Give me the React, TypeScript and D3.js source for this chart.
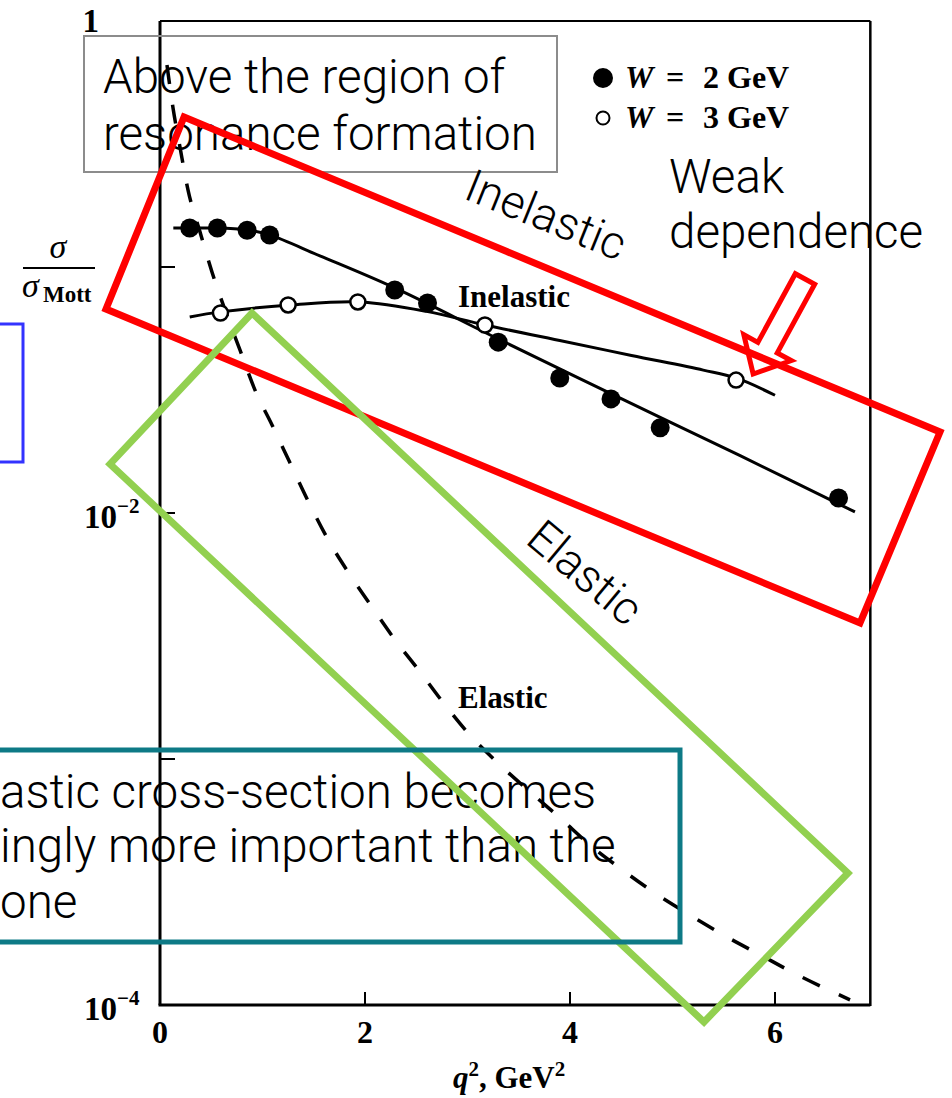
import React from 'react';
import * as d3 from 'd3';

// ---------- data ----------
// W = 2 GeV measurements (filled circles)
const w2Q2 = [0.29, 0.56, 0.85, 1.07, 2.29, 2.61, 3.3, 3.9, 4.4, 4.88, 6.62];
const w2Ratio = [0.144, 0.144, 0.141, 0.135, 0.0806, 0.0714, 0.0495, 0.0354, 0.0291, 0.0222, 0.0115];
// W = 3 GeV measurements (open circles)
const w3Q2 = [0.59, 1.25, 1.93, 3.17, 5.62];
const w3Ratio = [0.065, 0.0701, 0.0721, 0.0581, 0.0347];
// smooth curves through the points
const w2CurveQ2 = [0.13, 0.3, 0.6, 0.88, 1.07, 1.56, 2.29, 3.32, 4.49, 5.66, 6.78];
const w2CurveRatio = [0.144, 0.144, 0.144, 0.141, 0.135, 0.111, 0.0822, 0.0505, 0.0293, 0.0171, 0.0101];
const w3CurveQ2 = [0.29, 0.59, 1.27, 1.95, 2.6, 3.17, 3.9, 4.6, 5.3, 5.62, 6.0];
const w3CurveRatio = [0.0626, 0.0657, 0.07, 0.0721, 0.066, 0.0581, 0.0503, 0.0437, 0.0381, 0.0354, 0.0301];
// elastic (dashed)
const elQ2 = [0.068, 0.127, 0.195, 0.273, 0.39, 0.507, 0.634, 0.78, 0.927, 1.093, 1.268, 1.463, 1.659, 1.854, 2.068, 2.293, 2.537, 2.78, 3.024, 3.317, 3.61, 3.902, 4.195, 4.488, 4.829, 5.171, 5.512, 5.854, 6.244, 6.732];
const elRatio = [0.662, 0.443, 0.307, 0.206, 0.139, 0.0955, 0.0669, 0.046, 0.0316, 0.0228, 0.016, 0.0108, 0.00755, 0.0056, 0.00415, 0.00305, 0.00226, 0.00166, 0.00125, 0.000946, 0.000735, 0.000576, 0.000447, 0.00036, 0.000285, 0.000232, 0.000191, 0.00016, 0.000131, 0.000105];
// axes
const xTicks = [2, 4, 6];
const xTickLabels = ['0', '2', '4', '6'];
const xLabelVals = [0, 2, 4, 6];
const yTicks = [1e-3, 1e-2, 1e-1];
const xMax = 6.93;
const legendLabels = ['2 GeV', '3 GeV'];

const SERIF = '"Liberation Serif", "Times New Roman", serif';
const SANS = 'Roboto, "Helvetica Neue", sans-serif';

export default function App() {
  const x = d3.scaleLinear().domain([0, 6]).range([160, 775]);
  const y = d3.scaleLog().domain([1e-4, 1]).range([1005, 21]);
  const line = d3
    .line<[number, number]>()
    .x((d) => x(d[0]))
    .y((d) => y(d[1]))
    .curve(d3.curveMonotoneX);
  const smooth = d3
    .line<[number, number]>()
    .x((d) => x(d[0]))
    .y((d) => y(d[1]))
    .curve(d3.curveCatmullRom.alpha(0.5));
  const zip = (a: number[], b: number[]) => a.map((v, i) => [v, b[i]] as [number, number]);

  const x0 = x(0), x1 = x(xMax), yB = y(1e-4), yT = y(1);

  // arrow geometry
  const dir = [-0.48, 0.88], per = [0.88, 0.48];
  const T = [805, 279];
  const B = [T[0] + dir[0] * 78, T[1] + dir[1] * 78];
  const tip = [B[0] + dir[0] * 30, B[1] + dir[1] * 30];
  const pt = (c: number[], s: number) => [c[0] + per[0] * s, c[1] + per[1] * s];
  const arrow = [pt(T, -11), pt(B, -11), pt(B, -27), tip, pt(B, 27), pt(B, 11), pt(T, 11)]
    .map((p) => p.join(','))
    .join(' ');

  return (
    <svg width={952} height={1098} style={{ position: 'absolute', left: 0, top: 0, background: '#fff' }}>
      <rect x={0} y={0} width={952} height={1098} fill="#fff" />
      {/* frame */}
      <g fill="none" stroke="#000">
        <line x1={x0} y1={yT} x2={x0} y2={yB} strokeWidth={3} />
        <line x1={x0 - 1.5} y1={yB} x2={x1} y2={yB} strokeWidth={3} />
        <line x1={x0} y1={yT} x2={x1} y2={yT} strokeWidth={2} />
        <line x1={x1} y1={yT} x2={x1} y2={yB + 1} strokeWidth={2.5} />
        {xTicks.map((t) => (
          <line key={t} x1={x(t)} x2={x(t)} y1={yB} y2={yB - 13} strokeWidth={2} />
        ))}
        {yTicks.map((t) => (
          <line key={t} x1={x0} x2={x0 + 15} y1={y(t)} y2={y(t)} strokeWidth={2} />
        ))}
      </g>
      {/* tick labels */}
      <g fontFamily={SERIF} fontWeight="bold" fill="#000">
        {xLabelVals.map((v, i) => (
          <text key={v} x={x(v)} y={1043} fontSize={32} textAnchor="middle">
            {xTickLabels[i]}
          </text>
        ))}
        <text x={99} y={y(1) + 11} fontSize={33} textAnchor="end">1</text>
        <text x={84} y={y(1e-2) + 15} fontSize={33}>
          10<tspan dy={-15} fontSize={21}>−2</tspan>
        </text>
        <text x={84} y={y(1e-4) + 15} fontSize={33}>
          10<tspan dy={-15} fontSize={21}>−4</tspan>
        </text>
        {/* x title */}
        <text x={453} y={1088} fontSize={31} fontWeight="bold">
          <tspan fontStyle="italic">q</tspan>
          <tspan dy={-12} fontSize={21}>2</tspan>
          <tspan dy={12}>, GeV</tspan>
          <tspan dy={-12} fontSize={21}>2</tspan>
        </text>
        {/* y title */}
        <text x={58} y={258} fontSize={34} fontStyle="italic" fontWeight="normal" textAnchor="middle">σ</text>
        <line x1={23} x2={95} y1={268} y2={268} stroke="#000" strokeWidth={2} />
        <text x={22} y={297} fontSize={34} fontStyle="italic" fontWeight="normal">σ</text>
        <text x={43} y={302} fontSize={23}>Mott</text>
        {/* curve labels */}
        <text x={458} y={307} fontSize={31}>Inelastic</text>
        <text x={458} y={708} fontSize={31}>Elastic</text>
        {/* legend */}
        {legendLabels.map((lab, i) => (
          <g key={lab}>
            <circle
              cx={603}
              cy={78 + i * 40}
              r={i === 0 ? 9 : 6.5}
              fill={i === 0 ? '#000' : '#fff'}
              stroke="#000"
              strokeWidth={2}
            />
            <text x={625} y={88 + i * 40} fontSize={32}>
              <tspan fontStyle="italic">W</tspan>
              <tspan x={666}>=</tspan>
              <tspan x={703}>{lab}</tspan>
            </text>
          </g>
        ))}
      </g>
      {/* curves */}
      <g fill="none" stroke="#000">
        <path d={line(zip(elQ2, elRatio)) || ''} strokeWidth={3.5} strokeDasharray="19 21" />
        <path d={smooth(zip(w2CurveQ2, w2CurveRatio)) || ''} strokeWidth={3} />
        <path d={smooth(zip(w3CurveQ2, w3CurveRatio)) || ''} strokeWidth={3} />
      </g>
      {/* points */}
      <g>
        {w2Q2.map((q, i) => (
          <circle key={'a' + i} cx={x(q)} cy={y(w2Ratio[i])} r={9.5} fill="#000" />
        ))}
        {w3Q2.map((q, i) => (
          <circle key={'b' + i} cx={x(q)} cy={y(w3Ratio[i])} r={7.5} fill="#fff" stroke="#000" strokeWidth={2.5} />
        ))}
      </g>

      {/* ---------- annotations overlay ---------- */}
      <rect x={84} y={36} width={473} height={136} fill="none" stroke="#8c8c8c" strokeWidth={2} />
      <g fontFamily={SANS} fontWeight={300} fill="#000" fontSize={47.5}>
        <text x={103} y={93}>Above the region of</text>
        <text x={103} y={150}>resonance formation</text>
        <text x={669} y={193}>Weak</text>
        <text x={669} y={248}>dependence</text>
        <text transform="translate(462,198) rotate(22)" fontSize={46}>Inelastic</text>
        <text transform="translate(524,542) rotate(40)" fontSize={46}>Elastic</text>
        <text x={0} y={808} textAnchor="end">The inel</text>
        <text x={0} y={808}>astic cross-section becomes</text>
        <text x={0} y={862} textAnchor="end">increas</text>
        <text x={0} y={862}>ingly more important than the</text>
        <text x={0} y={918} textAnchor="end">elastic </text>
        <text x={0} y={918}>one</text>
      </g>
      <polygon
        points="184,117 940,432 860,623 106,309"
        fill="none"
        stroke="#ff0000"
        strokeWidth={7}
        strokeLinejoin="miter"
      />
      <polygon
        points="252,313 848,873 704,1022 110,464"
        fill="none"
        stroke="#92d050"
        strokeWidth={7}
        strokeLinejoin="miter"
      />
      <polygon points={arrow} fill="none" stroke="#ff0000" strokeWidth={5} strokeLinejoin="miter" />
      <rect x={-10} y={750} width={690} height={192} fill="none" stroke="#0e7a86" strokeWidth={5} />
      <rect x={-10} y={324} width={33} height={138} fill="none" stroke="#3333ff" strokeWidth={3} />
    </svg>
  );
}
